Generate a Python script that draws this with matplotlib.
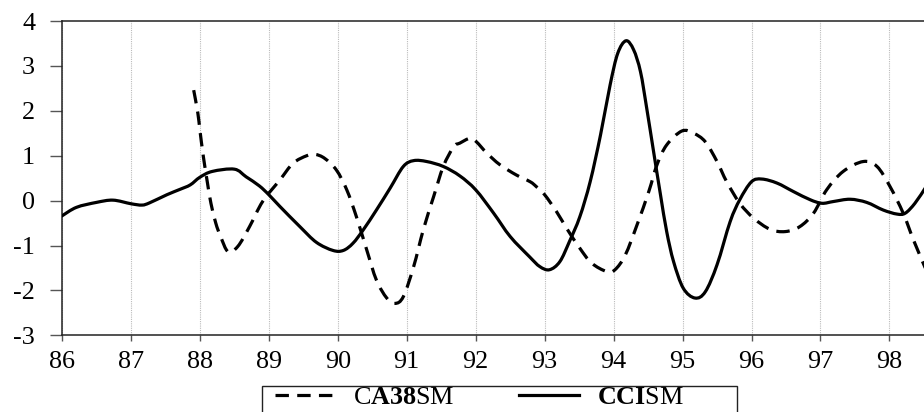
import matplotlib
matplotlib.use("Agg")
import matplotlib.pyplot as plt
from matplotlib.patches import Rectangle, PathPatch
from matplotlib.path import Path
from matplotlib.lines import Line2D

plt.rcParams['font.family'] = ['Liberation Serif', 'DejaVu Serif']
plt.rcParams['mathtext.fontset'] = 'custom'
plt.rcParams['mathtext.rm'] = 'Liberation Serif'
plt.rcParams['mathtext.bf'] = 'Liberation Serif:bold'

# CCISM (solid)
cci_x = [86.00, 86.21, 86.50, 86.74, 87.00, 87.16, 87.27, 87.52, 87.71, 87.86,
         88.00, 88.18, 88.50, 88.67, 88.86, 89.00, 89.16, 89.45, 89.69, 89.93,
         90.08, 90.22, 90.37, 90.56, 90.76, 90.95, 91.10, 91.29, 91.53, 91.77,
         92.00, 92.26, 92.50, 92.78, 92.93, 93.07, 93.22, 93.36, 93.51, 93.66,
         93.81, 93.95, 94.06, 94.18, 94.29, 94.39, 94.48, 94.58, 94.68, 94.77,
         94.87, 95.01, 95.18, 95.33, 95.50, 95.69, 95.83, 96.00, 96.15, 96.37,
         96.61, 96.85, 97.02, 97.19, 97.43, 97.67, 97.91, 98.11, 98.23, 98.37,
         98.52]
cci_y = [-0.34, -0.15, -0.04, 0.01, -0.07, -0.10, -0.05, 0.13, 0.25, 0.35,
         0.52, 0.65, 0.70, 0.53, 0.33, 0.13, -0.13, -0.58, -0.93, -1.11,
         -1.11, -0.95, -0.65, -0.21, 0.28, 0.76, 0.89, 0.87, 0.76, 0.55,
         0.24, -0.28, -0.80, -1.25, -1.47, -1.54, -1.36, -0.91, -0.36, 0.42,
         1.46, 2.58, 3.28, 3.56, 3.36, 2.87, 2.06, 1.09, 0.13, -0.69,
         -1.36, -1.95, -2.17, -2.03, -1.43, -0.47, 0.02, 0.42, 0.48, 0.39,
         0.20, 0.02, -0.06, -0.02, 0.03, -0.04, -0.21, -0.30, -0.28, -0.06,
         0.28]

# CA38SM (dashed)
ca_x = [87.91, 87.97, 88.00, 88.05, 88.11, 88.16, 88.23, 88.30, 88.41, 88.55,
        88.72, 88.91, 89.16, 89.35, 89.55, 89.67, 89.81, 89.98, 90.13, 90.27,
        90.42, 90.56, 90.71, 90.83, 90.95, 91.10, 91.24, 91.39, 91.53, 91.68,
        91.77, 91.92, 92.01, 92.16, 92.35, 92.59, 92.79, 92.88, 93.00, 93.17,
        93.32, 93.51, 93.68, 93.90, 94.02, 94.17, 94.34, 94.51, 94.63, 94.77,
        94.99, 95.16, 95.33, 95.50, 95.64, 95.83, 96.03, 96.27, 96.49, 96.70,
        96.90, 97.09, 97.33, 97.62, 97.82, 98.01, 98.20, 98.35, 98.52]
ca_y = [2.46, 1.95, 1.57, 0.98, 0.39, -0.06, -0.50, -0.80, -1.14, -1.02,
        -0.58, -0.02, 0.46, 0.83, 1.00, 1.03, 0.94, 0.68, 0.24, -0.36,
        -1.10, -1.77, -2.17, -2.29, -2.14, -1.47, -0.65, 0.09, 0.76, 1.20,
        1.28, 1.39, 1.31, 1.06, 0.80, 0.57, 0.42, 0.31, 0.13, -0.24,
        -0.62, -1.06, -1.39, -1.58, -1.54, -1.21, -0.54, 0.20, 0.80, 1.24,
        1.55, 1.50, 1.31, 0.87, 0.42, -0.06, -0.39, -0.64, -0.69, -0.58,
        -0.28, 0.24, 0.65, 0.87, 0.76, 0.31, -0.28, -0.88, -1.50]

x_ticks = list(range(86, 99))
y_ticks = [-3, -2, -1, 0, 1, 2, 3, 4]
labels = [r"C$\mathbf{A38}$SM", r"$\mathbf{CCI}$SM"]


def smooth_path(xs, ys):
    """Bezier path through the read points (Excel-like smoothed line)."""
    pts = list(zip(xs, ys))
    verts = [pts[0]]
    codes = [Path.MOVETO]
    n = len(pts)
    for i in range(n - 1):
        p0 = pts[i - 1] if i > 0 else pts[i]
        p1 = pts[i]
        p2 = pts[i + 1]
        p3 = pts[i + 2] if i + 2 < n else pts[i + 1]
        c1 = (p1[0] + (p2[0] - p0[0]) / 6.0, p1[1] + (p2[1] - p0[1]) / 6.0)
        c2 = (p2[0] - (p3[0] - p1[0]) / 6.0, p2[1] - (p3[1] - p1[1]) / 6.0)
        verts += [c1, c2, p2]
        codes += [Path.CURVE4] * 3
    return Path(verts, codes)


W, H = 924, 412
fig = plt.figure(figsize=(W / 100, H / 100), dpi=100)
left_px, top_px, bottom_px = 62, 21, 335.3
px_per_year = 68.95
xmin, xmax = 86, 99
ax = fig.add_axes([left_px / W, 1 - bottom_px / H,
                   (xmax - xmin) * px_per_year / W, (bottom_px - top_px) / H])

dash = (0, (4.2, 2.6))
lw = 2.3
ax.add_patch(PathPatch(smooth_path(ca_x, ca_y), fill=False, edgecolor='black',
                       lw=lw, linestyle=dash, joinstyle='round', zorder=3))
ax.add_patch(PathPatch(smooth_path(cci_x, cci_y), fill=False, edgecolor='black',
                       lw=lw, joinstyle='round', capstyle='round', zorder=3))

ax.set_xlim(xmin, xmax)
ax.set_ylim(-3, 4)
ax.set_xticks(x_ticks)
ax.set_xticklabels([str(t) for t in x_ticks])
ax.set_yticks(y_ticks)
ax.set_yticklabels([str(t) for t in y_ticks])
ax.xaxis.grid(True, color='#bbbbbb', linestyle=(0, (1, 1)), lw=0.8)
ax.set_axisbelow(True)
for s in ['left', 'bottom', 'top', 'right']:
    ax.spines[s].set_color('#222222')
    ax.spines[s].set_linewidth(1.1)
fs = 18.8
ax.tick_params(axis='y', direction='out', length=8.6, width=1.0, color='#555555',
               pad=10.8, labelsize=fs)
ax.tick_params(axis='x', direction='out', length=4.3, width=1.0, color='#555555',
               pad=7.0, labelsize=fs)

handles = [Line2D([], [], color='black', lw=lw, linestyle=dash),
           Line2D([], [], color='black', lw=lw)]
leg = ax.legend(handles, labels, loc='upper left',
                bbox_to_anchor=(275 / W, 1 - 386 / H),
                bbox_transform=fig.transFigure, ncol=2, frameon=False,
                borderpad=0, borderaxespad=0, handlelength=2.3,
                handletextpad=0.7, columnspacing=2.45, fontsize=fs)
fig.patches.append(Rectangle((261.7 / W, 1 - 440 / H), (737 - 261.7) / W, 54 / H,
                             transform=fig.transFigure, fill=False,
                             edgecolor='#222222', lw=1.0))

fig.savefig('out.png', dpi=100)
